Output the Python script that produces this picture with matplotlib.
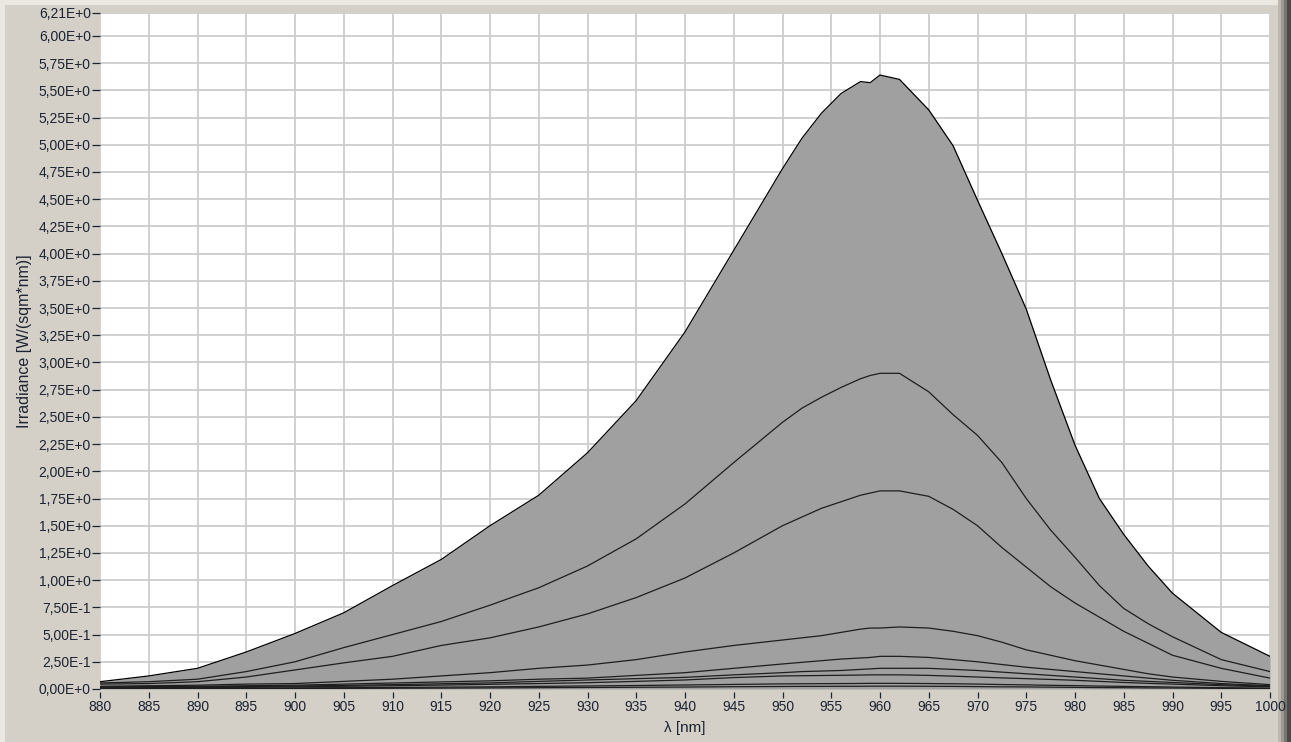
import matplotlib
matplotlib.use('Agg')
import matplotlib.pyplot as plt
from matplotlib.patches import Rectangle

plt.rcParams['font.family'] = ['Liberation Sans', 'DejaVu Sans']

# wavelength grid (nm)
wl = [880, 885, 890, 895, 900, 905, 910, 915, 920, 925, 930, 935, 940, 945,
      950, 952, 954, 956, 958, 959, 960, 962, 965, 967.5, 970, 972.5, 975,
      977.5, 980, 982.5, 985, 987.5, 990, 995, 1000]

# irradiance curves, W/(sqm*nm), from largest to smallest
s1 = [0.067, 0.12, 0.19, 0.34, 0.51, 0.70, 0.95, 1.19, 1.50, 1.78, 2.17, 2.65, 3.28, 4.03,
      4.78, 5.06, 5.29, 5.47, 5.58, 5.57, 5.64, 5.60, 5.32, 4.99, 4.49, 4.00, 3.49,
      2.84, 2.24, 1.75, 1.42, 1.13, 0.88, 0.52, 0.30]
s2 = [0.055, 0.067, 0.09, 0.16, 0.25, 0.38, 0.50, 0.62, 0.77, 0.93, 1.13, 1.38, 1.70, 2.08,
      2.45, 2.58, 2.68, 2.77, 2.85, 2.88, 2.90, 2.90, 2.73, 2.52, 2.33, 2.08, 1.75,
      1.46, 1.21, 0.95, 0.74, 0.60, 0.48, 0.27, 0.16]
s3 = [0.045, 0.05, 0.067, 0.11, 0.175, 0.24, 0.30, 0.40, 0.47, 0.57, 0.69, 0.84, 1.02, 1.25,
      1.50, 1.58, 1.66, 1.72, 1.78, 1.80, 1.82, 1.82, 1.77, 1.65, 1.50, 1.30, 1.12,
      0.94, 0.79, 0.66, 0.53, 0.42, 0.31, 0.19, 0.10]
s4 = [0.025, 0.03, 0.035, 0.045, 0.05, 0.07, 0.09, 0.12, 0.15, 0.19, 0.22, 0.27, 0.34, 0.40,
      0.45, 0.47, 0.49, 0.52, 0.55, 0.56, 0.56, 0.57, 0.56, 0.53, 0.49, 0.43, 0.36,
      0.31, 0.26, 0.22, 0.18, 0.14, 0.11, 0.07, 0.04]
s5 = [0.02, 0.022, 0.025, 0.03, 0.035, 0.045, 0.055, 0.065, 0.075, 0.09, 0.10, 0.125, 0.15, 0.19,
      0.23, 0.245, 0.26, 0.275, 0.285, 0.29, 0.30, 0.30, 0.29, 0.27, 0.25, 0.225, 0.20,
      0.18, 0.16, 0.14, 0.12, 0.10, 0.08, 0.05, 0.03]
s6 = [0.015, 0.017, 0.02, 0.023, 0.027, 0.033, 0.04, 0.048, 0.056, 0.07, 0.083, 0.095, 0.107, 0.13,
      0.15, 0.16, 0.165, 0.17, 0.18, 0.185, 0.19, 0.19, 0.19, 0.18, 0.17, 0.155, 0.14,
      0.125, 0.11, 0.095, 0.08, 0.07, 0.06, 0.04, 0.025]
s7 = [0.01, 0.012, 0.014, 0.016, 0.02, 0.025, 0.03, 0.036, 0.043, 0.05, 0.058, 0.07, 0.083, 0.105,
      0.12, 0.122, 0.124, 0.126, 0.128, 0.13, 0.13, 0.13, 0.125, 0.118, 0.11, 0.102, 0.095,
      0.088, 0.08, 0.07, 0.06, 0.052, 0.045, 0.03, 0.02]
s8 = [0.005, 0.006, 0.007, 0.008, 0.01, 0.012, 0.014, 0.017, 0.02, 0.024, 0.028, 0.032, 0.037, 0.042,
      0.047, 0.048, 0.049, 0.05, 0.051, 0.052, 0.052, 0.052, 0.05, 0.048, 0.045, 0.041, 0.038,
      0.034, 0.031, 0.027, 0.024, 0.021, 0.018, 0.012, 0.008]
s9 = [0.003, 0.003, 0.004, 0.004, 0.005, 0.006, 0.007, 0.008, 0.01, 0.012, 0.014, 0.016, 0.018, 0.021,
      0.023, 0.024, 0.024, 0.025, 0.025, 0.026, 0.026, 0.026, 0.025, 0.024, 0.022, 0.02, 0.019,
      0.017, 0.015, 0.013, 0.012, 0.01, 0.009, 0.006, 0.004]
curves = [s1, s2, s3, s4, s5, s6, s7, s8, s9]

y_ticks = [i * 0.25 for i in range(25)] + [6.21]
x_ticks = list(range(880, 1001, 5))


def sci_label(v):
    # LabVIEW style "5,00E-1" labels with decimal comma
    if v == 0:
        return '0,00E+0'
    if v < 1:
        return f'{v * 10:.2f}'.replace('.', ',') + 'E-1'
    return f'{v:.2f}'.replace('.', ',') + 'E+0'


W, H = 1291, 742
fig = plt.figure(figsize=(W / 100, H / 100), dpi=100)
fig.patch.set_facecolor('#d4d0c8')

# panel frame decoration
def px_rect(x0, y0, w, h, color):
    fig.add_artist(Rectangle((x0 / W, 1 - (y0 + h) / H), w / W, h / H,
                             transform=fig.transFigure, color=color, lw=0, zorder=0))

px_rect(0, 0, W, 5, '#ebe8e2')
px_rect(0, 0, 5, H, '#ebe8e2')
px_rect(1278, 0, 3, H, '#bcb8b0')
px_rect(1281, 0, 3, H, '#9d9992')
px_rect(1284, 0, 3, H, '#77746f')
px_rect(1287, 0, 4, H, '#4a4a4a')

ax = fig.add_axes([100 / W, 1 - 689 / H, 1170 / W, 676 / H])
ax.set_facecolor('white')

ax.fill_between(wl, 0, s1, color='#a0a0a0', lw=0, zorder=2)
for i, c in enumerate(curves):
    ax.plot(wl, c, color='black' if i == 0 else '#1e1e1e', lw=0.9, zorder=3)

ax.set_xlim(880, 1000)
ax.set_ylim(0, 6.21)

ax.set_xticks(x_ticks)
ax.set_yticks(y_ticks)
ax.set_yticklabels([sci_label(v) for v in y_ticks])
ax.grid(True, color='#cdcdcd', lw=1.3, zorder=1)
ax.set_axisbelow(True)

for s in ax.spines.values():
    s.set_visible(False)
ax.spines['bottom'].set_position(('outward', 2.2))

ax.tick_params(axis='y', direction='out', length=5.8, width=0.9, pad=0.8,
               colors='#1c2333', labelsize=10)
ax.tick_params(axis='x', direction='out', length=4.3, width=0.9, pad=1.5,
               colors='#1c2333', labelsize=10)

fig.text(685 / W, 1 - 728 / H, 'λ [nm]', ha='center', va='center',
         fontsize=11, color='#1c2333')
fig.text(25 / W, 1 - 341 / H, 'Irradiance [W/(sqm*nm)]', ha='center', va='center',
         rotation=90, fontsize=11.5, color='#1c2333')

fig.savefig('out.png', dpi=100, facecolor=fig.get_facecolor())
